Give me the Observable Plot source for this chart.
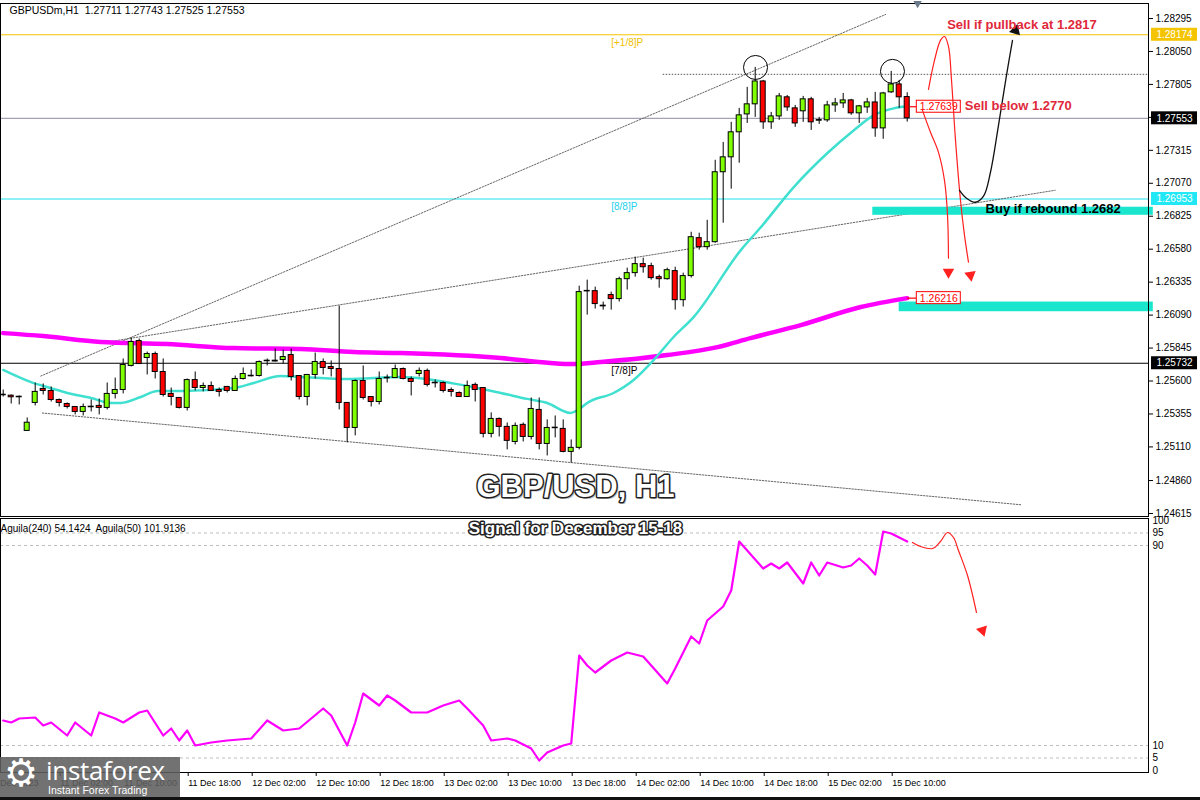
<!DOCTYPE html>
<html><head><meta charset="utf-8">
<script src="https://cdn.jsdelivr.net/npm/d3@7"></script>
<script src="https://cdn.jsdelivr.net/npm/@observablehq/plot@0.6"></script>
<style>
body{margin:0;background:#fff;}
#wrap{position:relative;width:1200px;height:800px;overflow:hidden;background:#fff;}
#wrap svg{display:block;}
#logo{position:absolute;left:0;top:757px;width:180px;height:41px;background:rgba(95,95,95,0.88);}
#logo .gear{position:absolute;left:4px;top:-3px;font:38px/1 'DejaVu Sans';color:#fff;}
#logo .name{position:absolute;left:46px;top:0px;font:400 26px/1 'Open Sans';color:#fff;letter-spacing:-0.3px;}
#logo .tag{position:absolute;left:48px;top:28px;font:10.5px/1 'Liberation Sans';color:#fff;}
#bottombar{position:absolute;left:0;top:797px;width:1200px;height:3px;background:#111;}
</style></head><body><div id="wrap"></div>
<script>
// ---------------- DATA ----------------
const header = "GBPUSDm,H1  1.27711 1.27743 1.27525 1.27553";
const oscHeader = "Aguila(240) 54.1424  Aguila(50) 101.9136";
const title = "GBP/USD, H1";
const subtitle = "Signal for December 15-18";

const open = [
1.25498,1.25491,1.25483,1.25229,1.25437,1.25541,1.25526,1.25459,1.25429,1.25407,
1.25370,1.25405,1.25415,1.25400,1.25504,1.25533,1.25712,1.25897,1.25771,1.25801,
1.25667,1.25504,1.25474,1.25400,1.25607,1.25548,1.25563,1.25533,1.25556,1.25526,
1.25615,1.25639,1.25637,1.25747,1.25751,1.25756,1.25793,1.25637,1.25481,1.25645,
1.25741,1.25704,1.25689,1.25437,1.25251,1.25600,1.25481,1.25444,1.25620,1.25622,
1.25689,1.25615,1.25652,1.25675,1.25587,1.25585,1.25533,1.25511,1.25481,1.25571,
1.25548,1.25207,1.25318,1.25259,1.25147,1.25274,1.25184,1.25385,1.25132,1.25249,
1.25244,1.25073,1.25103,1.26266,1.26268,1.26160,1.26239,1.26209,1.26357,1.26402,
1.26469,1.26454,1.26372,1.26357,1.26417,1.26201,1.26380,1.26662,1.26595,1.26632,
1.27152,1.27263,1.27449,1.27582,1.27657,1.27827,1.27523,1.27567,1.27709,1.27627,
1.27605,1.27694,1.27535,1.27538,1.27649,1.27664,1.27686,1.27590,1.27634,1.27671,
1.27478,1.27746,1.27805,1.27711];
const high = [
1.25533,1.25496,1.25489,1.25325,1.25585,1.25578,1.25556,1.25466,1.25437,1.25410,
1.25429,1.25459,1.25466,1.25585,1.25622,1.25764,1.25920,1.25912,1.25815,1.25815,
1.25764,1.25548,1.25474,1.25615,1.25667,1.25585,1.25593,1.25548,1.25556,1.25637,
1.25697,1.25682,1.25749,1.25764,1.25838,1.25830,1.25838,1.25637,1.25645,1.25808,
1.25764,1.25749,1.26157,1.25437,1.25608,1.25712,1.25481,1.25667,1.25645,1.25719,
1.25697,1.25630,1.25697,1.25689,1.25608,1.25593,1.25548,1.25519,1.25600,1.25585,
1.25548,1.25363,1.25325,1.25288,1.25288,1.25288,1.25474,1.25474,1.25311,1.25340,
1.25311,1.25162,1.26305,1.26350,1.26298,1.26187,1.26261,1.26372,1.26439,1.26521,
1.26514,1.26476,1.26387,1.26439,1.26446,1.26402,1.26706,1.26699,1.26795,1.27241,
1.27374,1.27523,1.27627,1.27783,1.27931,1.27835,1.27597,1.27738,1.27723,1.27649,
1.27716,1.27709,1.27560,1.27679,1.27701,1.27738,1.27694,1.27649,1.27701,1.27746,
1.27746,1.27902,1.27835,1.27743];
const low = [
1.25481,1.25429,1.25422,1.25229,1.25415,1.25496,1.25444,1.25407,1.25392,1.25348,
1.25340,1.25370,1.25348,1.25385,1.25466,1.25504,1.25704,1.25726,1.25645,1.25615,
1.25481,1.25415,1.25392,1.25377,1.25526,1.25519,1.25526,1.25481,1.25511,1.25526,
1.25607,1.25630,1.25630,1.25712,1.25741,1.25726,1.25600,1.25459,1.25415,1.25615,
1.25645,1.25630,1.25385,1.25140,1.25192,1.25459,1.25407,1.25422,1.25585,1.25622,
1.25608,1.25489,1.25630,1.25556,1.25548,1.25511,1.25481,1.25481,1.25481,1.25444,
1.25177,1.25177,1.25184,1.25088,1.25125,1.25147,1.25162,1.25088,1.25043,1.25177,
1.25066,1.24991,1.25088,1.26090,1.26135,1.26127,1.26127,1.26187,1.26276,1.26372,
1.26402,1.26350,1.26290,1.26350,1.26127,1.26150,1.26365,1.26573,1.26573,1.26625,
1.26773,1.27026,1.27219,1.27515,1.27560,1.27471,1.27471,1.27538,1.27605,1.27486,
1.27523,1.27463,1.27508,1.27523,1.27597,1.27627,1.27575,1.27515,1.27590,1.27412,
1.27397,1.27738,1.27627,1.27525];
const close = [
1.25494,1.25479,1.25479,1.25290,1.25519,1.25526,1.25459,1.25437,1.25407,1.25370,
1.25407,1.25409,1.25400,1.25504,1.25533,1.25719,1.25890,1.25726,1.25801,1.25667,
1.25496,1.25481,1.25400,1.25607,1.25548,1.25563,1.25526,1.25519,1.25526,1.25615,
1.25652,1.25635,1.25741,1.25751,1.25745,1.25778,1.25630,1.25481,1.25645,1.25741,
1.25697,1.25689,1.25437,1.25251,1.25600,1.25474,1.25444,1.25615,1.25624,1.25689,
1.25615,1.25593,1.25675,1.25571,1.25583,1.25526,1.25519,1.25481,1.25563,1.25533,
1.25207,1.25318,1.25259,1.25155,1.25266,1.25184,1.25392,1.25132,1.25251,1.25253,
1.25073,1.25103,1.26261,1.26270,1.26172,1.26155,1.26209,1.26357,1.26402,1.26469,
1.26446,1.26365,1.26357,1.26424,1.26201,1.26380,1.26669,1.26595,1.26632,1.27152,
1.27263,1.27449,1.27575,1.27657,1.27827,1.27523,1.27567,1.27716,1.27634,1.27515,
1.27694,1.27523,1.27540,1.27649,1.27664,1.27686,1.27590,1.27642,1.27671,1.27478,
1.27738,1.27805,1.27709,1.27553];

// fast moving average (cyan), read at bar positions
const maFastIdx = [0,3.4,5.9,8,11,13.4,14.7,17.2,19.3,22.5,28.8,31.3,34.7,37.2,43,49.7,58,62.2,65.5,68,70.9,72.2,73,76.3,78.8,81.3,83.8,86.3,92.2,94.7,98.8,103,106.3,108.8,111.3,113];
const maFastVal = [1.25682,1.25593,1.25548,1.25511,1.25474,1.25437,1.25437,1.25481,1.25526,1.25526,1.25548,1.25585,1.25637,1.25630,1.25615,1.25630,1.25563,1.25511,1.25467,1.25437,1.25363,1.25400,1.25437,1.25511,1.25608,1.25756,1.25927,1.26075,1.26573,1.26743,1.27040,1.27293,1.27463,1.27575,1.27627,1.27642];
// slow moving average (magenta)
const maSlowIdx = [0,5,12.2,20.5,28.8,37.2,43.8,49.7,62.2,68.4,71.3,74.7,83,89.3,93.4,99.7,107.2,113];
const maSlowVal = [1.25956,1.25934,1.25890,1.25875,1.25845,1.25838,1.25815,1.25808,1.25771,1.25734,1.25726,1.25741,1.25793,1.25852,1.25919,1.26016,1.26150,1.26216];

// Aguila(50) oscillator
const oscIdx = [0,1,2,4,5,6,8,9,11,12,14,15,17,18,20,21,22,23,24,26,28,31,33,35,37,40,41,43,44,45,47,48,49,51,53,55,57,58,60,61,63,64,66,67,68,70,71,72,73,74,76,78,80,81,83,84,86,87,88,90,91,92,93,95,96,97,98,100,101,102,103,105,106,107,108,109,110,111,113];
const oscVal = [20,19.2,20.8,21.2,18,19.2,14,19.2,14,23.2,20.8,19.2,23.2,24,14,16.8,12,16,10,11.2,12,12.8,20,16,16.8,24.8,22,10,19.2,30.8,26,30,28,23.2,23.2,26,28,24.8,18,12,12.8,12,8.8,4,7.2,10,10.8,46,42,39.2,44,47.2,45.6,42,34.8,40.8,53.6,50.8,60,65.6,72,91.6,88,80.8,82.8,80.8,83.2,74.8,83.2,78,83.2,81.2,82,84.8,82,78.4,95.6,94.8,91.6];
const oscLevels = [95, 90, 10, 5];
const oscTicks = [100, 95, 90, 10, 5, 0];

// price axis
const priceTicks = [1.28295,1.28050,1.27805,1.27560,1.27315,1.27070,1.26825,1.26580,1.26335,1.26090,1.25845,1.25600,1.25355,1.25110,1.24860,1.24615];
const levelPrices = [1.28174, 1.26953, 1.25732];
const levelNames = ["[+1/8]P", "[8/8]P", "[7/8]P"];
const bidPrice = 1.27553;
const resistancePrice = 1.27880;

// time axis
const timeTickIdx = [7,15,23,31,39,47,55,63,71,79,87,95,103,111];
const timeTickLabels = ["11 Dec 02:00","11 Dec 10:00","11 Dec 18:00","12 Dec 02:00","12 Dec 10:00","12 Dec 18:00","13 Dec 02:00","13 Dec 10:00","13 Dec 18:00","14 Dec 02:00","14 Dec 10:00","14 Dec 18:00","15 Dec 02:00","15 Dec 10:00"];
const firstDateLabel = "10 Dec 2023";

// annotations (bar index, price)
const trendLines = [
  [[4.7,1.25637],[110.3,1.28325]],
  [[12.2,1.25882],[131.5,1.27018]],
  [[4.9,1.25362],[127.2,1.24680]]
];
const circles = [[94.04,1.27931],[111.16,1.27902]];
const zones = [
  {i1:108.7, p1:1.26892, p2:1.26832},
  {i1:112.0, p1:1.26187, p2:1.26115}
];
const markerLabels = [
  {i0:113.4, price:1.27639, text:"1.27639"},
  {i0:113.0, price:1.26216, text:"1.26216"}
];
const notes = [
  {i:118.0, price:1.28250, text:"Sell if pullback at 1.2817", kind:"sell"},
  {i:120.2, price:1.27649, text:"Sell below 1.2770", kind:"sell"},
  {i:122.8, price:1.26877, text:"Buy if rebound 1.2682", kind:"buy"}
];
const arrowRedA = [[115.66,1.27768],[116.41,1.27983],[117.16,1.28132],[117.66,1.28161],[118.16,1.28087],[118.54,1.27835],[119.04,1.27389],[119.66,1.26944],[120.16,1.26684],[120.66,1.26484]];
const arrowRedAHead = [120.91,1.26387];
const arrowRedB = [[114.91,1.27612],[115.91,1.27449],[116.91,1.27300],[117.66,1.27092],[118.04,1.26833],[118.16,1.26513]];
const arrowRedBHead = [118.16,1.26409];
const arrowBlack = [[119.54,1.27018],[120.41,1.26959],[121.54,1.26929],[122.54,1.26974],[123.41,1.27152],[124.41,1.27501],[125.41,1.27872],[126.16,1.28132]];
const arrowBlackHead = [126.54,1.28206];
const oscArrow = [[113.66,91.2],[114.66,89.6],[116.16,88.8],[117.16,91.6],[118.04,95.2],[118.79,93.2],[119.41,88],[120.54,78],[121.66,63.2]];
const oscArrowHead = [122.41,56];

// ---------------- LAYOUT / STYLE ----------------
const W = 1200, PLOT_R = 1148;
const X_DOMAIN = [-0.3375, 143.1625];
const AXIS_BOX = [143.54, 149.29];
const FONT = "Liberation Sans, Arial, sans-serif";
const BULL = "#7fff00", BEAR = "#ff0000";
const CYAN_MA = "#40e0d0", MAGENTA = "#ff00ff";
const levelColors = ["#f5c400", "#1fe3f0", "#000000"];
const levelTextColors = ["#f0c000", "#22d0ea", "#000000"];
const levelBoxColors = ["#f5c400", "#22e8f5", "#000000"];
const ZONE = "#19e6cc";
const NOTE_RED = "#e0283a";

const bars = open.map((o, i) => ({i, o, h: high[i], l: low[i], c: close[i]}));
const bulls = bars.filter(d => d.c >= d.o);
const bears = bars.filter(d => d.c < d.o);
const pts = (arr) => arr.map(([i, p]) => ({i, p}));
const levels = levelPrices.map((p, k) => ({p, name: levelNames[k], k}));
const tickMap = new Map(timeTickIdx.map((t, k) => [t, timeTickLabels[k]]));

const main = Plot.plot({
  width: W, height: 517,
  marginLeft: 0, marginRight: W - PLOT_R, marginTop: 3, marginBottom: 1,
  x: {type: "linear", domain: X_DOMAIN, range: [0, PLOT_R], axis: null, label: null},
  y: {type: "linear", domain: [1.24615, 1.28295], range: [513, 18], axis: null, label: null},
  style: {fontFamily: FONT, fontSize: "10px", background: "white", overflow: "visible"},
  marks: [
    ...levels.map(d => Plot.ruleY([d.p], {stroke: levelColors[d.k], strokeWidth: 1})),
    Plot.ruleY([bidPrice], {stroke: "#8a8aa6", strokeWidth: 1}),
    Plot.ruleY([resistancePrice], {x1: 82.5, x2: X_DOMAIN[1], stroke: "#555", strokeDasharray: "1.5,1.5"}),
    ...levels.map(d => Plot.text([d], {x: 76.0, y: "p", text: "name", textAnchor: "start", dy: 8, fill: levelTextColors[d.k], fontSize: 10})),
    ...trendLines.map(t => Plot.line(pts(t), {x: "i", y: "p", stroke: "#666", strokeWidth: 1, strokeDasharray: "1.5,1.5"})),
    Plot.rect(zones, {x1: "i1", x2: () => X_DOMAIN[1] + 0.6, y1: "p1", y2: "p2", fill: ZONE}),
    Plot.line(maSlowIdx.map((i, k) => ({i, p: maSlowVal[k]})), {x: "i", y: "p", stroke: MAGENTA, strokeWidth: 4.5, curve: "monotone-x"}),
    Plot.line(maFastIdx.map((i, k) => ({i, p: maFastVal[k]})), {x: "i", y: "p", stroke: CYAN_MA, strokeWidth: 2.5, curve: "monotone-x"}),
    Plot.ruleX(bars, {x: "i", y1: "l", y2: "h", stroke: "#000", strokeWidth: 1}),
    Plot.rect(bulls, {x1: d => d.i - 0.5, x2: d => d.i + 0.5, y1: "o", y2: "c", insetLeft: 1.5, insetRight: 1.5, fill: BULL, stroke: "#000", strokeWidth: 1}),
    Plot.rect(bears, {x1: d => d.i - 0.5, x2: d => d.i + 0.5, y1: "o", y2: "c", insetLeft: 1.5, insetRight: 1.5, fill: BEAR, stroke: "#000", strokeWidth: 1}),
    Plot.dot(pts(circles), {x: "i", y: "p", r: 12, stroke: "#000", strokeWidth: 1, fill: "none"}),
    Plot.ruleY(markerLabels, {y: "price", x1: "i0", x2: 114.2, stroke: "#ff0000", strokeWidth: 1.2}),
    Plot.rect(markerLabels, {x1: 114.2, x2: 119.7, y1: "price", y2: "price", insetTop: -6, insetBottom: -6, fill: "white", stroke: "#ff0000", strokeWidth: 1}),
    Plot.text(markerLabels, {x: 116.95, y: "price", text: "text", fill: "#ff0000", fontSize: 10.5}),
    Plot.line(pts(arrowRedA), {x: "i", y: "p", stroke: "#ff2020", strokeWidth: 1.2, curve: "catmull-rom"}),
    Plot.line(pts(arrowRedB), {x: "i", y: "p", stroke: "#ff2020", strokeWidth: 1.2, curve: "catmull-rom"}),
    Plot.line(pts(arrowBlack), {x: "i", y: "p", stroke: "#111", strokeWidth: 1.3, curve: "catmull-rom"}),
    Plot.dot([arrowRedAHead], {x: d => d[0], y: d => d[1], symbol: "triangle2", r: 5.5, fill: "#ff2020", rotate: 171}),
    Plot.dot([arrowRedBHead], {x: d => d[0], y: d => d[1], symbol: "triangle2", r: 5.5, fill: "#ff2020", rotate: 180}),
    Plot.dot([arrowBlackHead], {x: d => d[0], y: d => d[1], symbol: "triangle2", r: 5.5, fill: "#111", rotate: 17}),
    Plot.text(notes.filter(d => d.kind === "sell"), {x: "i", y: "price", text: "text", textAnchor: "start", fill: NOTE_RED, fontSize: 13, fontWeight: "bold"}),
    Plot.text(notes.filter(d => d.kind === "buy"), {x: "i", y: "price", text: "text", textAnchor: "start", fill: "#000", fontSize: 13, fontWeight: "bold"}),
    Plot.frame({stroke: "#000", strokeWidth: 1}),
    Plot.axisY({anchor: "right", ticks: priceTicks, tickFormat: d => d.toFixed(5), tickSize: 4, tickPadding: 3, fontSize: 10, label: null}),
    Plot.rect(levels, {x1: AXIS_BOX[0], x2: AXIS_BOX[1], y1: "p", y2: "p", insetTop: -6.5, insetBottom: -6.5, fill: d => levelBoxColors[d.k]}),
    Plot.text(levels, {x: (AXIS_BOX[0] + AXIS_BOX[1]) / 2, y: "p", text: d => d.p.toFixed(5), fill: "white", fontSize: 10}),
    Plot.rect([bidPrice], {x1: AXIS_BOX[0], x2: AXIS_BOX[1], y1: d => d, y2: d => d, insetTop: -6.5, insetBottom: -6.5, fill: "#000"}),
    Plot.text([bidPrice], {x: (AXIS_BOX[0] + AXIS_BOX[1]) / 2, y: d => d, text: d => d.toFixed(5), fill: "white", fontSize: 10}),
    Plot.dot([0], {x: 114.3, frameAnchor: "top", symbol: "triangle2", r: 4, fill: "#6a7a8a", rotate: 180}),
    Plot.text([header], {frameAnchor: "top-left", lineAnchor: "middle", dx: 9, dy: 7, text: d => d, textAnchor: "start", fontSize: 10.5, fill: "#000"}),
    Plot.text([title], {frameAnchor: "bottom", lineAnchor: "middle", dx: 3, dy: -27, text: d => d, fontSize: 31, fontWeight: "bold", fill: "#888", opacity: 0.5}),
    Plot.text([title], {frameAnchor: "bottom", lineAnchor: "middle", dx: 1, dy: -29, text: d => d, fontSize: 31, fontWeight: "bold", fill: "white", stroke: "#222", strokeWidth: 3, paintOrder: "stroke"})
  ]
});

const osc = Plot.plot({
  width: W, height: 283,
  marginLeft: 0, marginRight: W - PLOT_R, marginTop: 1, marginBottom: 28,
  x: {type: "linear", domain: X_DOMAIN, range: [0, PLOT_R], axis: null, label: null},
  y: {type: "linear", domain: [10, 90], range: [228, 28], axis: null, label: null},
  style: {fontFamily: FONT, fontSize: "10px", background: "white", overflow: "visible"},
  marks: [
    Plot.ruleY(oscLevels, {stroke: "#bdbdbd", strokeDasharray: "3,3"}),
    Plot.line(oscIdx.map((i, k) => ({i, v: oscVal[k]})), {x: "i", y: "v", stroke: MAGENTA, strokeWidth: 2.2}),
    Plot.line(oscArrow.map(([i, v]) => ({i, v})), {x: "i", y: "v", stroke: "#ff2020", strokeWidth: 1.2, curve: "catmull-rom"}),
    Plot.dot([oscArrowHead], {x: d => d[0], y: d => d[1], symbol: "triangle2", r: 5.5, fill: "#ff2020", rotate: 162}),
    Plot.frame({stroke: "#000", strokeWidth: 1}),
    Plot.axisY({anchor: "right", ticks: oscTicks, tickSize: 0, tickPadding: 4, fontSize: 10, label: null}),
    Plot.axisX({anchor: "bottom", ticks: timeTickIdx, tickFormat: d => tickMap.get(d), tickSize: 4, tickPadding: 3, textAnchor: "start", dx: 1, fontSize: 9, label: null}),
    Plot.text([firstDateLabel], {frameAnchor: "bottom-left", lineAnchor: "middle", dx: 38, dy: 11, text: d => d, textAnchor: "end", fontSize: 9}),
    Plot.text([oscHeader], {frameAnchor: "top-left", lineAnchor: "middle", dx: 0, dy: 10, text: d => d, textAnchor: "start", fontSize: 10}),
    Plot.text([subtitle], {frameAnchor: "top", lineAnchor: "middle", dx: 1, dy: 10, text: d => d, fontSize: 17, fontWeight: "bold", fill: "white", stroke: "#222", strokeWidth: 3, paintOrder: "stroke"})
  ]
});

const wrap = document.getElementById("wrap");
wrap.appendChild(main);
wrap.appendChild(osc);
const logo = document.createElement("div");
logo.id = "logo";
logo.innerHTML = '<span class="gear">⚙</span><span class="name">instaforex</span><span class="tag">Instant Forex Trading</span>';
wrap.appendChild(logo);
const bb = document.createElement("div"); bb.id = "bottombar"; wrap.appendChild(bb);
</script>
</body></html>
